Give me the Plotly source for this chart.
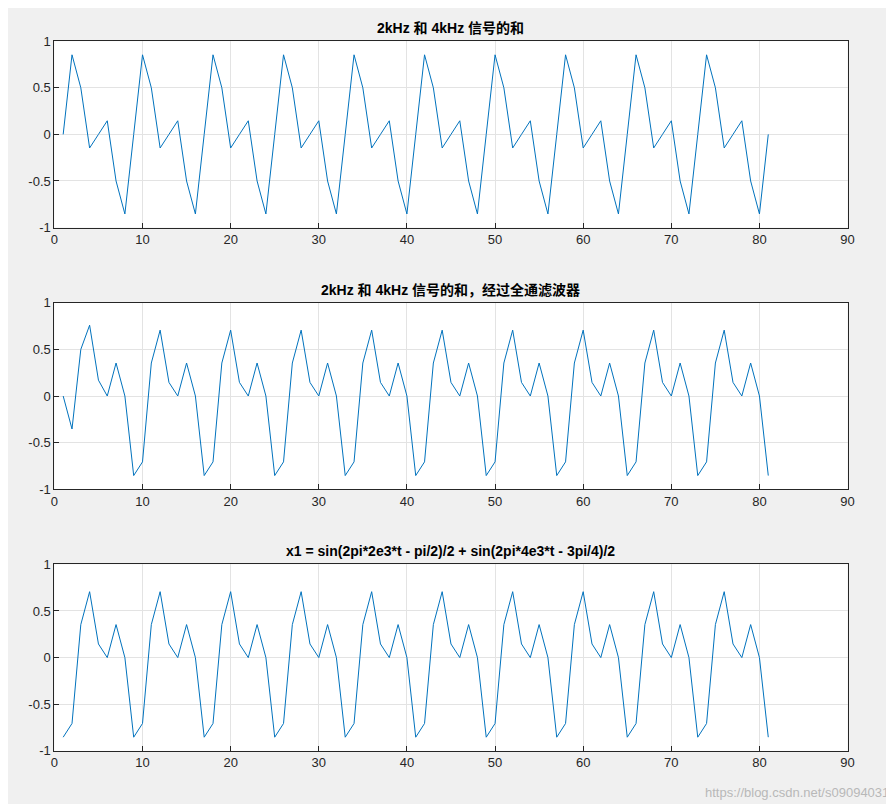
import plotly.graph_objects as go

x = list(range(1, 82))
y1 = [0, 0.854, 0.5, -0.146, 0, 0.146, -0.5, -0.854,
      0, 0.854, 0.5, -0.146, 0, 0.146, -0.5, -0.854,
      0, 0.854, 0.5, -0.146, 0, 0.146, -0.5, -0.854,
      0, 0.854, 0.5, -0.146, 0, 0.146, -0.5, -0.854,
      0, 0.854, 0.5, -0.146, 0, 0.146, -0.5, -0.854,
      0, 0.854, 0.5, -0.146, 0, 0.146, -0.5, -0.854,
      0, 0.854, 0.5, -0.146, 0, 0.146, -0.5, -0.854,
      0, 0.854, 0.5, -0.146, 0, 0.146, -0.5, -0.854,
      0, 0.854, 0.5, -0.146, 0, 0.146, -0.5, -0.854,
      0, 0.854, 0.5, -0.146, 0, 0.146, -0.5, -0.854,
      0]
y2 = [0, -0.354, 0.5, 0.76, 0.17, 0, 0.354, 0, -0.854,
      -0.707, 0.354, 0.707, 0.146, 0, 0.354, 0, -0.854,
      -0.707, 0.354, 0.707, 0.146, 0, 0.354, 0, -0.854,
      -0.707, 0.354, 0.707, 0.146, 0, 0.354, 0, -0.854,
      -0.707, 0.354, 0.707, 0.146, 0, 0.354, 0, -0.854,
      -0.707, 0.354, 0.707, 0.146, 0, 0.354, 0, -0.854,
      -0.707, 0.354, 0.707, 0.146, 0, 0.354, 0, -0.854,
      -0.707, 0.354, 0.707, 0.146, 0, 0.354, 0, -0.854,
      -0.707, 0.354, 0.707, 0.146, 0, 0.354, 0, -0.854,
      -0.707, 0.354, 0.707, 0.146, 0, 0.354, 0, -0.854]
y3 = [-0.854, -0.707, 0.354, 0.707, 0.146, 0, 0.354, 0,
      -0.854, -0.707, 0.354, 0.707, 0.146, 0, 0.354, 0,
      -0.854, -0.707, 0.354, 0.707, 0.146, 0, 0.354, 0,
      -0.854, -0.707, 0.354, 0.707, 0.146, 0, 0.354, 0,
      -0.854, -0.707, 0.354, 0.707, 0.146, 0, 0.354, 0,
      -0.854, -0.707, 0.354, 0.707, 0.146, 0, 0.354, 0,
      -0.854, -0.707, 0.354, 0.707, 0.146, 0, 0.354, 0,
      -0.854, -0.707, 0.354, 0.707, 0.146, 0, 0.354, 0,
      -0.854, -0.707, 0.354, 0.707, 0.146, 0, 0.354, 0,
      -0.854, -0.707, 0.354, 0.707, 0.146, 0, 0.354, 0,
      -0.854]
titles = ["2kHz 和 4kHz 信号的和",
          "2kHz 和 4kHz 信号的和，经过全通滤波器",
          "x1 = sin(2pi*2e3*t - pi/2)/2 + sin(2pi*4e3*t - 3pi/4)/2"]
xticks = [0, 10, 20, 30, 40, 50, 60, 70, 80, 90]
yticks = [-1, -0.5, 0, 0.5, 1]
yticklabels = ["-1", "-0.5", "0", "0.5", "1"]

H = 804
W = 894
panels = [(26.7, 216.6), (293.3, 483.2), (559.8, 749.8)]
title_y = [13.4, 280, 546.6]
font = "Liberation Sans, Arial, Noto Sans CJK SC"

fig = go.Figure()
layout = dict(width=W, height=H, margin=dict(l=0, r=0, t=0, b=0),
              paper_bgcolor="#f0f0f0", plot_bgcolor="white", showlegend=False,
              font=dict(family=font, size=13, color="#262626"), annotations=[])
for i, (ys, (top, bot)) in enumerate(zip([y1, y2, y3], panels)):
    n = "" if i == 0 else str(i + 1)
    fig.add_trace(go.Scatter(x=x, y=ys, mode="lines", line=dict(color="#0072BD", width=1),
                             xaxis="x" + n, yaxis="y" + n))
    ax = dict(showline=True, mirror=True, linecolor="#262626", linewidth=1,
              gridcolor="#e3e3e3", zeroline=False, ticks="inside", ticklen=5,
              tickcolor="#262626", tickfont=dict(size=13, color="#262626"))
    layout["xaxis" + n] = dict(ax, domain=[42.9 / W, 846 / W], range=[0, 90],
                               tickvals=xticks, anchor="y" + n)
    layout["yaxis" + n] = dict(ax, domain=[1 - bot / H, 1 - top / H], range=[-1, 1],
                               tickvals=yticks, ticktext=yticklabels, anchor="x" + n)
    layout["annotations"].append(dict(text="<b>" + titles[i] + "</b>", xref="paper", yref="paper",
                                      x=(450.5 - 10.5) / 0.99 / W, y=1 - title_y[i] / H,
                                      showarrow=False, font=dict(size=14, color="black"),
                                      yanchor="middle"))
layout["annotations"].append(dict(text="https://blog.csdn.net/s09094031", xref="paper", yref="paper",
                                  x=1, y=0, showarrow=False, xanchor="right", yanchor="bottom",
                                  xshift=-4, yshift=2,
                                  font=dict(size=13, color="#b8b8b8")))
fig.update_layout(**layout)
fig.write_html("out.html")
